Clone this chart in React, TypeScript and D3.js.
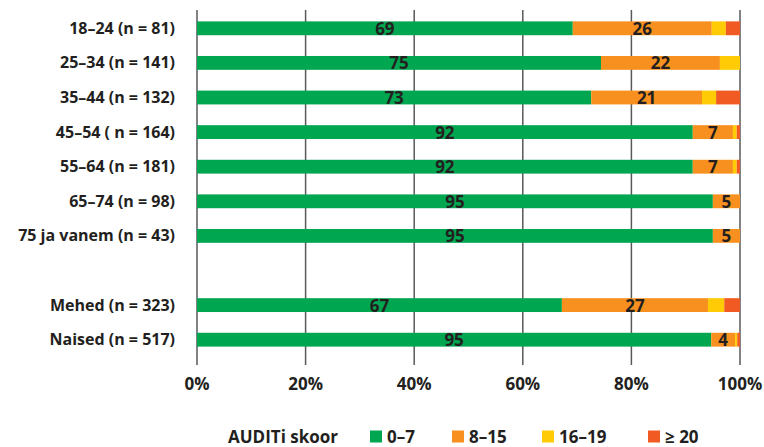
import React, { useEffect, useRef } from 'react';
import * as d3 from 'd3';

// age groups and gender rows ("" is the empty spacer row)
const categories = [
  '18–24 (n = 81)',
  '25–34 (n = 141)',
  '35–44 (n = 132)',
  '45–54 ( n = 164)',
  '55–64 (n = 181)',
  '65–74 (n = 98)',
  '75 ja vanem (n = 43)',
  '',
  'Mehed (n = 323)',
  'Naised (n = 517)',
];
const seriesNames = ['0–7', '8–15', '16–19', '≥ 20'];
const score0to7 = [69.2, 74.4, 72.6, 91.3, 91.3, 95.0, 95.0, 0, 67.2, 94.7];
const score8to15 = [25.6, 21.9, 20.4, 7.4, 7.4, 5.0, 5.0, 0, 26.9, 4.4];
const score16to19 = [2.6, 3.7, 2.6, 0.7, 0.7, 0, 0, 0, 3.0, 0.4];
const score20plus = [2.6, 0, 4.4, 0.6, 0.6, 0, 0, 0, 2.9, 0.5];
// printed labels (only for the first two segments)
const label0to7 = ['69', '75', '73', '92', '92', '95', '95', '', '67', '95'];
const label8to15 = ['26', '22', '21', '7', '7', '5', '5', '', '27', '4'];
const xTicks = [0, 20, 40, 60, 80, 100];
const legendTitle = 'AUDITi skoor';

const colors = ['#00a650', '#f7901e', '#ffcb05', '#f15a22'];
const FONT = '"Open Sans", sans-serif';
const TEXT = '#231f20';

const App = () => {
  const chartRef = useRef<HTMLDivElement>(null);
  const width = 764;
  const height = 447;
  const margin = { top: 11, left: 197, right: 24 };
  const plotBottom = 357;

  useEffect(() => {
    const root = d3.select(chartRef.current);
    root.selectAll('*').remove();
    const svg = root.append('svg').attr('width', width).attr('height', height).style('display', 'block');

    const keys = categories.map((c, i) => (c === '' ? `spacer${i}` : c));
    const x = d3.scaleLinear().domain([0, 100]).range([margin.left, width - margin.right]);
    const y = d3.scaleBand().domain(keys).range([margin.top, plotBottom]).paddingInner(0.6).paddingOuter(0.3);

    // gridlines
    svg.append('g')
      .selectAll('line')
      .data(xTicks)
      .join('line')
      .attr('x1', d => x(d)).attr('x2', d => x(d))
      .attr('y1', 10).attr('y2', 365)
      .attr('stroke', '#58595b')
      .attr('stroke-width', 1.5);

    const table = categories.map((c, i) => ({
      key: keys[i],
      values: [score0to7[i], score8to15[i], score16to19[i], score20plus[i]],
    }));
    const stack = d3.stack<any>()
      .keys([0, 1, 2, 3] as any)
      .value((d: any, k: any) => d.values[k]);
    const stacked = stack(table as any);

    svg.append('g')
      .selectAll('g')
      .data(stacked)
      .join('g')
      .attr('fill', (_d, i) => colors[i])
      .selectAll('rect')
      .data(d => d.filter(s => s[1] - s[0] > 0))
      .join('rect')
      .attr('x', d => x(d[0]))
      .attr('width', d => x(d[1]) - x(d[0]))
      .attr('y', d => y((d.data as any).key)!)
      .attr('height', y.bandwidth());

    // value labels
    const labels = [label0to7, label8to15];
    labels.forEach((arr, si) => {
      svg.append('g')
        .selectAll('text')
        .data(stacked[si].map((s, i) => ({ s, t: arr[i], key: keys[i] })).filter(d => d.t !== ''))
        .join('text')
        .attr('x', d => x((d.s[0] + d.s[1]) / 2))
        .attr('y', d => y(d.key)! + y.bandwidth() / 2 + 6.5)
        .attr('text-anchor', 'middle')
        .attr('font-family', FONT)
        .attr('font-weight', 700)
        .attr('font-size', 17)
        .attr('fill', TEXT)
        .text(d => d.t);
    });

    // category labels
    svg.append('g')
      .selectAll('text')
      .data(categories.map((c, i) => ({ c, key: keys[i] })).filter(d => d.c !== ''))
      .join('text')
      .attr('x', 175)
      .attr('y', d => y(d.key)! + y.bandwidth() / 2 + 5.5)
      .attr('text-anchor', 'end')
      .attr('font-family', FONT)
      .attr('font-weight', 700)
      .attr('font-size', 16)
      .attr('fill', TEXT)
      .text(d => d.c);

    // x tick labels
    svg.append('g')
      .selectAll('text')
      .data(xTicks)
      .join('text')
      .attr('x', d => x(d))
      .attr('y', 390)
      .attr('text-anchor', 'middle')
      .attr('font-family', FONT)
      .attr('font-weight', 700)
      .attr('font-size', 17)
      .attr('fill', TEXT)
      .text(d => `${d}%`);

    // legend
    const legendY = 436.5;
    const legend = svg.append('g').attr('font-family', FONT).attr('font-weight', 700).attr('fill', TEXT);
    legend.append('text')
      .attr('x', 228).attr('y', legendY + 6)
      .attr('font-size', 17)
      .text(legendTitle);
    const legendX = [370, 452, 542, 648];
    const items = legend.selectAll('g.item')
      .data(seriesNames)
      .join('g')
      .attr('class', 'item')
      .attr('transform', (_d, i) => `translate(${legendX[i]},${legendY})`);
    items.append('rect')
      .attr('x', 0).attr('y', -6)
      .attr('width', 12).attr('height', 12)
      .attr('fill', (_d, i) => colors[i]);
    items.append('text')
      .attr('x', 17).attr('y', 6)
      .attr('font-size', 17)
      .text(d => d);
  }, []);

  return (
    <div style={{ position: 'absolute', left: 0, top: 0 }}>
      <div ref={chartRef} className="auditChart" />
    </div>
  );
};

export default App;
